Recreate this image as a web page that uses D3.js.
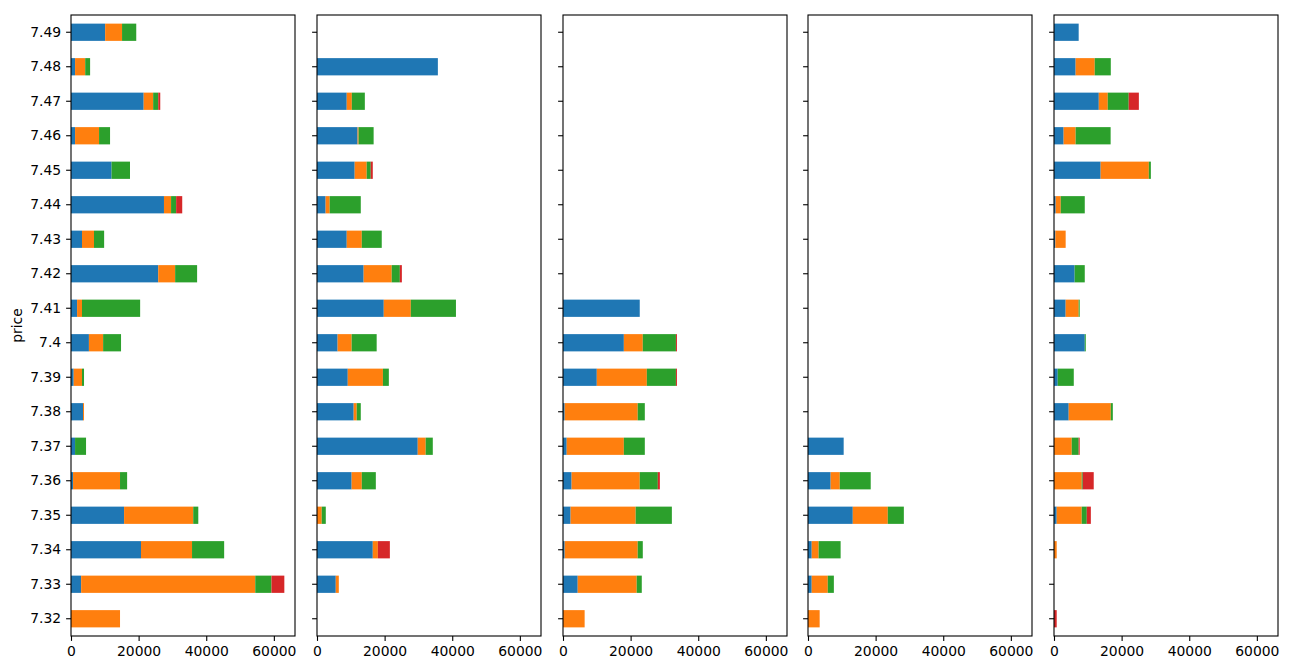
<!DOCTYPE html>
<html lang="en">
<head>
  <meta charset="UTF-8">
  <title>price stacks</title>
  <style>
    body {
      margin: 0;
      background: white;
    }
    #chart text {
      font-family: "DejaVu Sans", sans-serif;
      font-size: 13.9px;
      fill: black;
    }
  </style>
</head>
<body>
  <div id="chart"></div>

  <script src="https://d3js.org/d3.v7.min.js"></script>
  <script>
    // price levels, bottom to top
    const prices = ["7.32", "7.33", "7.34", "7.35", "7.36", "7.37", "7.38", "7.39", "7.4",
                    "7.41", "7.42", "7.43", "7.44", "7.45", "7.46", "7.47", "7.48", "7.49"];
    const xTicks = [0, 20000, 40000, 60000];
    const colors = ["#1f77b4", "#ff7f0e", "#2ca02c", "#d62728"];

    // panel 1
    const p1Blue   = [0, 3000, 20700, 15700, 600, 1200, 3550, 800, 5300, 1800, 25800, 3250, 27500, 12000, 1200, 21500, 1200, 10100];
    const p1Orange = [14500, 51500, 15100, 20450, 13900, 0, 300, 2450, 4200, 1450, 5000, 3550, 2100, 0, 7100, 2800, 3000, 5000];
    const p1Green  = [0, 4800, 9500, 1500, 2100, 3250, 0, 600, 5300, 17200, 6500, 3000, 1500, 5450, 3250, 1500, 1450, 4200];
    const p1Red    = [0, 3800, 0, 0, 0, 0, 0, 0, 0, 0, 0, 0, 1800, 0, 0, 600, 0, 0];

    // panel 2
    const p2Blue   = [0, 5550, 16500, 0, 10250, 29800, 10850, 9100, 6100, 19750, 13800, 8800, 2550, 11150, 12000, 8800, 35750, 0];
    const p2Orange = [0, 900, 1500, 1400, 3000, 2350, 900, 10400, 4150, 8000, 8300, 4450, 1200, 3550, 300, 1500, 0, 0];
    const p2Green  = [0, 0, 0, 1200, 4150, 2100, 1200, 1750, 7400, 13350, 2400, 5900, 9200, 1200, 4450, 3850, 0, 0];
    const p2Red    = [0, 0, 3550, 0, 0, 0, 0, 0, 0, 0, 600, 0, 0, 600, 0, 0, 0, 0];

    // panel 3
    const p3Blue   = [0, 4350, 500, 2250, 2550, 1100, 500, 10000, 18000, 22700, 0, 0, 0, 0, 0, 0, 0, 0];
    const p3Orange = [6400, 17450, 21600, 19250, 20150, 16900, 21600, 14800, 5600, 0, 0, 0, 0, 0, 0, 0, 0, 0];
    const p3Green  = [0, 1500, 1500, 10700, 5350, 6200, 2100, 8600, 9800, 0, 0, 0, 0, 0, 0, 0, 0, 0];
    const p3Red    = [0, 0, 0, 0, 600, 0, 0, 300, 300, 0, 0, 0, 0, 0, 0, 0, 0, 0];

    // panel 4
    const p4Blue   = [0, 1100, 1100, 13250, 6700, 10550, 0, 0, 0, 0, 0, 0, 0, 0, 0, 0, 0, 0];
    const p4Orange = [3450, 4750, 2050, 10350, 2700, 0, 0, 0, 0, 0, 0, 0, 0, 0, 0, 0, 0, 0];
    const p4Green  = [0, 1800, 6500, 4750, 9150, 0, 0, 0, 0, 0, 0, 0, 0, 0, 0, 0, 0, 0];
    const p4Red    = [0, 0, 0, 0, 0, 0, 0, 0, 0, 0, 0, 0, 0, 0, 0, 0, 0, 0];

    // panel 5
    const p5Blue   = [0, 0, 0, 800, 0, 0, 4350, 1100, 9100, 3450, 6100, 400, 500, 13800, 2850, 13250, 6400, 7300];
    const p5Orange = [0, 0, 800, 7400, 8200, 5250, 12450, 0, 0, 3850, 0, 3050, 1500, 14250, 3550, 2650, 5650, 0];
    const p5Green  = [0, 0, 0, 1500, 300, 2050, 600, 4750, 300, 300, 3000, 0, 7100, 600, 10350, 6200, 4750, 0];
    const p5Red    = [800, 0, 0, 1200, 3250, 300, 0, 0, 0, 0, 0, 0, 0, 0, 0, 3000, 0, 0];

    const panels = [
      [p1Blue, p1Orange, p1Green, p1Red],
      [p2Blue, p2Orange, p2Green, p2Red],
      [p3Blue, p3Orange, p3Green, p3Red],
      [p4Blue, p4Orange, p4Green, p4Red],
      [p5Blue, p5Orange, p5Green, p5Red]
    ];

    const width = 1293, height = 664;
    const plotTop = 15, plotBottom = 636;
    const panelLeft = [71, 317, 563, 808, 1054];
    const panelW = 224;

    // shared x: largest stack plus 5% like matplotlib
    let maxSum = 0;
    panels.forEach(function (p) {
      prices.forEach(function (_, i) {
        maxSum = Math.max(maxSum, p[0][i] + p[1][i] + p[2][i] + p[3][i]);
      });
    });

    const x = d3.scaleLinear()
      .domain([0, maxSum * 1.05])
      .range([0, panelW]);

    const y = d3.scaleBand()
      .domain(prices.slice().reverse())
      .range([0, plotBottom - plotTop])
      .paddingInner(0.5)
      .paddingOuter(0.25);

    const svg = d3.select('#chart')
      .append('svg')
      .attr('width', width)
      .attr('height', height);

    panels.forEach(function (p, k) {
      const g = svg.append('g')
        .attr('transform', 'translate(' + panelLeft[k] + ',' + plotTop + ')');

      // stack the four series
      const rows = prices.map(function (pr, i) {
        return { price: pr, s0: p[0][i], s1: p[1][i], s2: p[2][i], s3: p[3][i] };
      });
      const stacked = d3.stack().keys(["s0", "s1", "s2", "s3"])(rows);

      g.selectAll('g.layer')
        .data(stacked)
        .enter()
        .append('g')
        .attr('fill', function (d, i) { return colors[i]; })
        .selectAll('rect')
        .data(function (d) { return d; })
        .enter()
        .append('rect')
        .attr('x', function (d) { return x(d[0]); })
        .attr('width', function (d) { return x(d[1]) - x(d[0]); })
        .attr('y', function (d) { return y(d.data.price); })
        .attr('height', y.bandwidth());

      // axes
      const yAxis = d3.axisLeft(y).tickSize(4.9).tickPadding(4.9);
      if (k > 0) yAxis.tickFormat('');
      const ya = g.append('g').call(yAxis);

      const xa = g.append('g')
        .attr('transform', 'translate(0,' + (plotBottom - plotTop) + ')')
        .call(d3.axisBottom(x).tickValues(xTicks).tickFormat(d3.format('d')).tickSize(4.9).tickPadding(4.9));

      [ya, xa].forEach(function (a) {
        a.select('.domain').remove();
        a.selectAll('line').attr('stroke', 'black').attr('stroke-width', 1.1);
        a.selectAll('text').attr('font-size', null).attr('font-family', null);
      });

      // frame
      g.append('rect')
        .attr('width', panelW)
        .attr('height', plotBottom - plotTop)
        .attr('fill', 'none')
        .attr('stroke', 'black')
        .attr('stroke-width', 1.1);
    });

    svg.append('text')
      .attr('transform', 'translate(22,' + ((plotTop + plotBottom) / 2) + ') rotate(-90)')
      .attr('text-anchor', 'middle')
      .text('price');
  </script>
</body>
</html>
